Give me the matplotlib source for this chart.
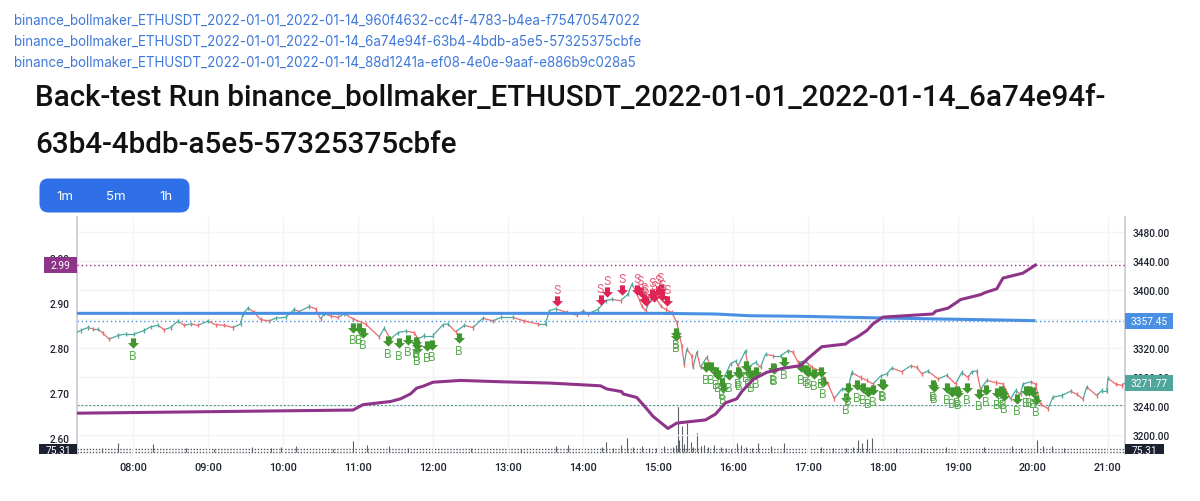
import matplotlib
matplotlib.use('Agg')
import matplotlib.pyplot as plt
from matplotlib.collections import LineCollection
from matplotlib.patches import FancyBboxPatch, Rectangle
from matplotlib.path import Path
from matplotlib.transforms import Bbox

plt.rcParams['font.family'] = ['Inter', 'DejaVu Sans']

links = ['binance_bollmaker_ETHUSDT_2022-01-01_2022-01-14_960f4632-cc4f-4783-b4ea-f75470547022',
         'binance_bollmaker_ETHUSDT_2022-01-01_2022-01-14_6a74e94f-63b4-4bdb-a5e5-57325375cbfe',
         'binance_bollmaker_ETHUSDT_2022-01-01_2022-01-14_88d1241a-ef08-4e0e-9aaf-e886b9c028a5']
title_lines = ['Back-test Run binance_bollmaker_ETHUSDT_2022-01-01_2022-01-14_6a74e94f-',
               '63b4-4bdb-a5e5-57325375cbfe']
intervals = ['1m', '5m', '1h']

# everything on x is minutes since midnight
hours = list(range(8, 22))

price_t = [434, 438, 444, 448, 452, 456, 461, 468, 474, 481, 489, 494, 500, 505, 510, 516, 521, 526, 532, 540,
           546, 553, 560, 566, 568, 572, 577, 582, 589, 594, 602, 609, 613, 621, 626, 630, 633, 638, 644, 649,
           656, 666, 677, 681, 686, 692, 698, 705, 708, 713, 720, 728, 732, 738, 745, 752, 760, 768, 774, 784,
           793, 804, 810, 813, 818, 827, 835, 840, 844, 852, 858, 863, 870, 876, 879, 882, 887, 890, 894, 898,
           902, 906, 911, 915, 919, 921, 923, 927, 928, 931, 934, 939, 944, 952, 958, 962, 964, 970, 972, 978,
           982, 986, 992, 998, 1004, 1008, 1012, 1018, 1023, 1030, 1036, 1041, 1047, 1052, 1055, 1062, 1067,
           1072, 1078, 1083, 1087, 1095, 1102, 1107, 1111, 1116, 1124, 1131, 1138, 1143, 1148, 1151, 1155, 1158,
           1163, 1170, 1176, 1182, 1186, 1190, 1192, 1198, 1202, 1206, 1212, 1216, 1223, 1230, 1235, 1240, 1243,
           1251, 1255, 1259, 1260, 1266, 1271, 1274]
price = [3340, 3344, 3348, 3346, 3346, 3340, 3332, 3337, 3339, 3339, 3344, 3349, 3351, 3345, 3348, 3357, 3351,
         3353, 3351, 3357, 3352, 3351, 3348, 3353, 3367, 3375, 3369, 3359, 3357, 3361, 3362, 3373, 3370, 3377,
         3374, 3360, 3367, 3364, 3362, 3367, 3360, 3353, 3335, 3347, 3332, 3341, 3343, 3341, 3332, 3337, 3337,
         3352, 3353, 3342, 3351, 3348, 3361, 3357, 3362, 3362, 3357, 3353, 3353, 3371, 3374, 3369, 3365, 3371,
         3367, 3373, 3385, 3387, 3385, 3394, 3408, 3399, 3378, 3371, 3387, 3390, 3378, 3373, 3369, 3355, 3323,
         3297, 3318, 3309, 3293, 3314, 3293, 3307, 3288, 3275, 3298, 3302, 3295, 3316, 3293, 3300, 3293, 3311,
         3309, 3309, 3316, 3314, 3300, 3302, 3293, 3288, 3270, 3250, 3263, 3263, 3286, 3279, 3275, 3270, 3281,
         3284, 3292, 3287, 3295, 3293, 3284, 3288, 3277, 3282, 3270, 3286, 3279, 3287, 3288, 3263, 3275, 3272,
         3270, 3249, 3261, 3256, 3270, 3273, 3270, 3242, 3236, 3252, 3254, 3260, 3256, 3249, 3266, 3254, 3261,
         3261, 3278, 3270, 3268, 3272]

blue_t = [434, 900, 946, 973, 1014, 1080, 1173, 1202]
blue = [3367.6, 3367.6, 3366.7, 3364.3, 3363.5, 3361.2, 3358.4, 3357.45]

equity_t = [435, 656, 664, 686, 694, 702, 707, 712, 720, 742, 774, 814, 854, 859, 871, 872, 883, 890, 896, 908,
            915, 938, 946, 954, 963, 967, 976, 987, 1000, 1014, 1020, 1031, 1050, 1054, 1059, 1067, 1072, 1080,
            1120, 1122, 1132, 1139, 1142, 1158, 1162, 1171, 1176, 1192, 1202]
equity = [2.655, 2.662, 2.674, 2.681, 2.687, 2.698, 2.711, 2.715, 2.724, 2.728, 2.725, 2.722, 2.716, 2.709,
          2.703, 2.698, 2.690, 2.668, 2.648, 2.621, 2.633, 2.640, 2.653, 2.678, 2.687, 2.703, 2.730, 2.746,
          2.755, 2.761, 2.777, 2.803, 2.809, 2.817, 2.824, 2.839, 2.854, 2.869, 2.876, 2.882, 2.889, 2.902,
          2.908, 2.919, 2.924, 2.932, 2.956, 2.967, 2.985]

volume_t = [455, 468, 496, 522, 545, 575, 590, 598, 610, 640, 656, 667, 685, 700, 720, 750, 790, 818, 828, 855,
            858, 864, 870, 875, 880, 887, 893, 898, 905, 912, 914, 916, 917, 919, 921, 923, 926, 928, 931, 934,
            937, 940, 945, 950, 954, 958, 963, 966, 970, 975, 980, 990, 1001, 1030, 1040, 1050, 1056, 1060,
            1063, 1067, 1071, 1090, 1110, 1130, 1161, 1183, 1190, 1200, 1203, 1208, 1215, 1225, 1260]
volume = [90, 215, 200, 100, 75, 125, 110, 125, 150, 75, 275, 175, 150, 100, 75, 90, 80, 140, 175, 125, 250,
          100, 175, 350, 125, 150, 90, 100, 150, 125, 175, 1150, 300, 650, 200, 725, 250, 125, 475, 150, 175,
          125, 175, 125, 100, 75, 225, 175, 125, 100, 225, 150, 225, 125, 90, 100, 125, 300, 225, 325, 350,
          100, 90, 125, 125, 150, 100, 150, 300, 150, 150, 100, 150]
volume_levels = [75.31, 8]

buy_t = [480, 656, 661, 664, 684, 693, 700, 706, 707, 707, 715, 719, 741, 914, 914, 938, 942, 946, 948, 951,
         952, 957, 964, 965, 970, 972, 974, 978, 992, 993, 1001, 1014, 1018, 1020, 1025, 1030, 1032, 1052, 1050,
         1059, 1064, 1068, 1072, 1079, 1080, 1120, 1121, 1131, 1135, 1139, 1140, 1147, 1157, 1162, 1171, 1174,
         1176, 1177, 1187, 1194, 1197, 1200, 1202]
buy_p = [3326, 3347, 3347, 3341, 3329, 3326, 3331, 3328, 3324, 3318, 3323, 3324, 3333, 3341, 3337, 3293, 3293,
         3286, 3282, 3272, 3265, 3282, 3287, 3284, 3295, 3287, 3282, 3287, 3292, 3291, 3300, 3293, 3290, 3287,
         3284, 3287, 3273, 3264, 3251, 3268, 3265, 3259, 3262, 3270, 3269, 3269, 3266, 3265, 3259, 3261, 3258,
         3265, 3256, 3262, 3258, 3261, 3258, 3253, 3249, 3260, 3260, 3259, 3248]

sell_t = [819, 854, 859, 871, 883, 886, 889, 890, 895, 897, 900, 902, 903, 907]
sell_p = [3384, 3386, 3397, 3400, 3400, 3397, 3387, 3384, 3394, 3390, 3399, 3401, 3392, 3384]

last_price = 3271.77
blue_last = 3357.45
equity_last = 2.99
equity_line = 2.985
low_level = 3240.5

W, H = 1200, 502
UP, DOWN = '#4fa79c', '#ec6a6e'
BLUE, PURPLE = '#4a90e2', '#8e3589'
TEAL = '#4fa79c'
BUY, SELL = '#3f962c', '#dd2455'
BUY_TEXT, SELL_TEXT = '#62ad58', '#e2607f'
TICK = '#1f2430'
AXIS_FONT = ['Roboto', 'DejaVu Sans']

arrow = Path([(-0.3, 0.6), (0.3, 0.6), (0.3, 0.05), (0.65, 0.05), (0, -0.6), (-0.65, 0.05), (-0.3, 0.05), (-0.3, 0.6)])

fig = plt.figure(figsize=(W / 100, H / 100), dpi=100)

# page chrome is laid out in pixels on a full-figure axes
page = fig.add_axes([0, 0, 1, 1], zorder=0)
page.set_xlim(0, W)
page.set_ylim(H, 0)
page.axis('off')
for y, s in zip([21, 42, 63], links):
    page.text(14, y, s, color='#3f78d8', fontsize=9.63, va='center', ha='left')
for y, s in zip([98, 145], title_lines):
    page.text(35, y, s, color='#111111', fontsize=21.3, family=['Roboto', 'DejaVu Sans'], fontweight='medium',
              va='center', ha='left')
page.add_patch(FancyBboxPatch((47.5, 187.5), 134, 18, boxstyle='round,pad=8,rounding_size=9', fc='#2f6fe8', ec='none'))
for x, s in zip([64.5, 116, 166], intervals):
    page.text(x, 197, s, color='white', fontsize=9.5, va='center', ha='center')

rect = [76.5 / W, (H - 455) / H, (1125 - 76.5) / W, (455 - 218) / H]

vol = fig.add_axes(rect, zorder=1)
vol.set_xlim(434.8, 1273.6)
vol.set_ylim(-50, 5875)
vol.vlines(volume_t, 0, volume, color='#5c6068', lw=0.8)
for v in volume_levels:
    vol.axhline(v, color='#555a63', lw=1, ls=(0, (1, 1.2)))
vol.axis('off')

ax = fig.add_axes(rect, zorder=2)
ax.patch.set_visible(False)
ax.set_xlim(434.8, 1273.6)
ax.set_ylim(3173.3, 3500.7)

left = ax.twinx()
left.patch.set_visible(False)
left.yaxis.tick_left()
ax.yaxis.tick_right()

ax.set_yticks([3200, 3240, 3280, 3320, 3360, 3400, 3440, 3480])
ax.set_yticklabels(['%.2f' % v for v in ax.get_yticks()], family=AXIS_FONT, fontweight='medium')
ax.set_xticks([h * 60 for h in hours])
ax.set_xticklabels(['%02d:00' % h for h in hours], family=AXIS_FONT, fontweight='medium')
ax.tick_params(axis='x', length=0, labelsize=7.8, labelcolor=TICK, pad=6)
ax.tick_params(axis='y', length=0, labelsize=7.3, labelcolor=TICK, pad=5.5)
ax.grid(color='#f4f4f5', lw=1)
ax.set_axisbelow(True)
for side in ['top', 'bottom']:
    ax.spines[side].set_visible(False)
for side in ['left', 'right']:
    ax.spines[side].set_color('#c9cbd0')
    ax.spines[side].set_linewidth(1.2)

segs = []
cols = []
for i in range(1, len(price)):
    segs.append([(price_t[i - 1], price[i - 1]), (price_t[i], price[i])])
    cols.append(UP if price[i] >= price[i - 1] else DOWN)
ax.add_collection(LineCollection(segs, colors=cols, linewidths=0.9, zorder=3))
ax.scatter(price_t[1:], price[1:], c=cols, marker='|', s=9, linewidths=1, zorder=3)

ax.plot(blue_t, blue, color=BLUE, lw=2.2, zorder=4, solid_capstyle='butt')
ax.axhline(blue_last, color=BLUE, lw=1, ls=(0, (1, 2)), zorder=2)
ax.axhline(low_level, color='#5a9a94', lw=0.8, ls=(0, (2, 1.5)), zorder=2)

ax.plot(sell_t, sell_p, ls='none', marker=arrow, ms=8, color=SELL, mew=0, zorder=5)
ax.plot(buy_t, buy_p, ls='none', marker=arrow, ms=8, color=BUY, mew=0, zorder=5)
for t, p in zip(buy_t, buy_p):
    ax.annotate('B', (t, p), xytext=(0, -8.8), textcoords='offset points', ha='center', va='center',
                color=BUY_TEXT, fontsize=8.5, zorder=5)
for t, p in zip(sell_t, sell_p):
    ax.annotate('S', (t, p), xytext=(0, 8), textcoords='offset points', ha='center', va='center',
                color=SELL_TEXT, fontsize=8.5, zorder=5)

left.set_ylim(2.5641, 3.092)
left.set_yticks([2.6, 2.7, 2.8, 2.9, 3.0])
left.set_yticklabels(['%.2f' % v for v in left.get_yticks()], family=AXIS_FONT, fontweight='medium')
left.tick_params(length=0, labelsize=7.3, labelcolor=TICK, pad=5)
for s in left.spines.values():
    s.set_visible(False)
left.plot(equity_t, equity, color=PURPLE, lw=2.2, zorder=4)
left.axhline(equity_line, color=PURPLE, lw=1, ls=(0, (1, 2)), zorder=2)

# value tags sit over the tick labels, on their own pixel axes
tags = fig.add_axes([0, 0, 1, 1], zorder=3)
tags.set_xlim(0, W)
tags.set_ylim(H, 0)
tags.axis('off')


def py(a, v):
    return H - a.transData.transform((a.get_xlim()[0], v))[1]


def tag(x, y, w, s, color):
    tags.add_patch(Rectangle((x, y - 8), w, 16, fc=color, ec='none'))
    tags.text(x + w / 2, y, s, color='white', fontsize=7.3, family=AXIS_FONT, va='center', ha='center')


tag(1125, py(ax, blue_last), 48, '%.2f' % blue_last, BLUE)
tag(1125, py(ax, last_price), 48, '%.2f' % last_price, TEAL)
tag(44, py(left, equity_line), 33, '%.2f' % equity_last, PURPLE)

# the volume value tags are cut off by the bottom of the pane
cut = Bbox([[0, H - 454.5], [W, H - 440]])
for x in [39, 1125]:
    r = Rectangle((x, 445), 39 if x == 1125 else 38, 9.5, fc='#1b2130', ec='none')
    tags.add_patch(r)
    t = tags.text(x + 19, 451.5, '%.2f' % volume_levels[0], color='white', fontsize=7.3, family=AXIS_FONT,
                  va='center', ha='center')
    t.set_clip_on(True)
    t.set_clip_box(cut)

fig.savefig('out.png', dpi=100)
